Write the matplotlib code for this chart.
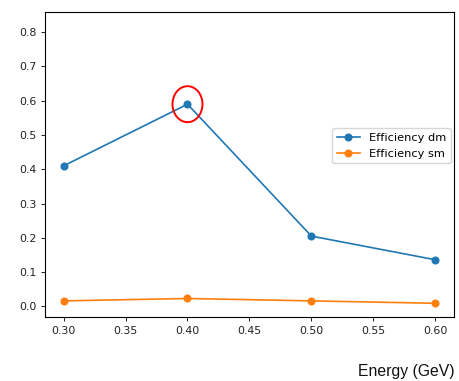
import matplotlib
matplotlib.use("Agg")
import matplotlib.pyplot as plt
from matplotlib.patches import Ellipse

energy = [0.30, 0.40, 0.50, 0.60]
eff_dm = [0.41, 0.59, 0.205, 0.136]
eff_sm = [0.016, 0.023, 0.016, 0.009]
x_ticks = [0.30, 0.35, 0.40, 0.45, 0.50, 0.55, 0.60]
y_ticks = [0.0, 0.1, 0.2, 0.3, 0.4, 0.5, 0.6, 0.7, 0.8]
peak_x, peak_y = 0.40, 0.59

fs = 7.9
fig = plt.figure(figsize=(4.6, 3.81), dpi=100)
ax = fig.add_axes([0.0978, 0.168, 0.889, 0.8005])

ax.plot(energy, eff_dm, marker="o", color="#1f77b4", lw=1.2, ms=4.8, label="Efficiency dm")
ax.plot(energy, eff_sm, marker="o", color="#ff7f0e", lw=1.2, ms=4.8, label="Efficiency sm")

ax.set_xlim(0.285, 0.615)
ax.set_ylim(-0.031, 0.859)
ax.set_xticks(x_ticks)
ax.set_xticklabels([f"{v:.2f}" for v in x_ticks])
ax.set_yticks(y_ticks)
ax.set_yticklabels([f"{v:.1f}" for v in y_ticks])
ax.tick_params(labelsize=fs, length=2.8, width=0.7, colors="#222222")
for s in ax.spines.values():
    s.set_linewidth(0.8)

# highlight the peak efficiency point
ax.add_patch(Ellipse((peak_x, peak_y), width=0.0242, height=0.105,
                     fill=False, edgecolor="red", lw=1.4, zorder=5))

ax.legend(loc="center right", bbox_to_anchor=(1.0, 0.561), fontsize=8.2,
          borderaxespad=0.3, handlelength=2.0)

fig.text(455 / 460, 1 - 371.7 / 381, "Energy (GeV)", ha="right", va="center",
         fontsize=11.3, family="Liberation Sans", color="#111111")

fig.savefig("out.png", dpi=100)
